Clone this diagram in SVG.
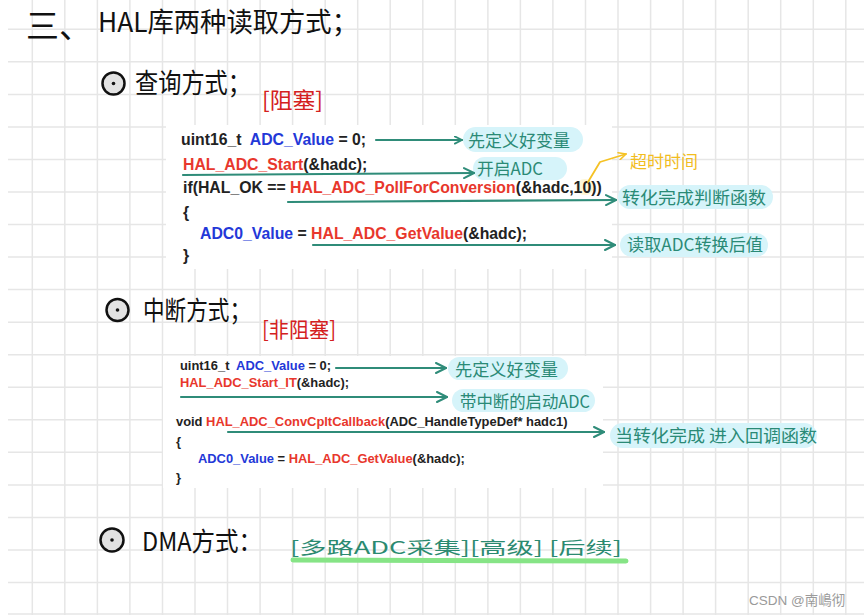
<svg xmlns="http://www.w3.org/2000/svg" width="864" height="615" viewBox="0 0 864 615">
<defs>
<style>
.grid{stroke:#e6e6e6;stroke-width:1.5;fill:none}
.hand{font-family:"Noto Sans CJK SC","Noto Sans",sans-serif;fill:#111}
.red{font-family:"Noto Sans CJK SC",sans-serif;fill:#d42020}
.code{font-family:"Liberation Sans",Arial,sans-serif;font-weight:bold;fill:#222}
.c1{font-size:15.8px}
.c2{font-size:12.9px}
.r{fill:#e8372c}
.b{fill:#2338d8}
.bub{fill:#d6f4fa}
.lbl{font-family:"Noto Sans CJK SC",sans-serif;fill:#2a8a76;font-size:17px}
.conn{stroke:#2f8c79;stroke-width:2.2;fill:none;stroke-linecap:round}
.yel{stroke:#f5c225;stroke-width:1.8;fill:none;stroke-linecap:round;stroke-linejoin:round}
.ico{fill:#e2e2e2;stroke:#111;stroke-width:2.5}
</style>
<marker id="ah" viewBox="0 0 12 12" refX="11" refY="6" markerWidth="12" markerHeight="12" markerUnits="userSpaceOnUse" orient="auto">
<path d="M1,1 L11,6 L1,11" fill="none" stroke="#2f8c79" stroke-width="2" stroke-linecap="round" stroke-linejoin="round"/>
</marker>
<marker id="ahs" viewBox="0 0 10 10" refX="9" refY="5" markerWidth="9" markerHeight="9" markerUnits="userSpaceOnUse" orient="auto">
<path d="M1,1 L9,5 L1,9" fill="none" stroke="#2f8c79" stroke-width="2" stroke-linecap="round" stroke-linejoin="round"/>
</marker>
<marker id="ahy" viewBox="0 0 10 10" refX="9" refY="5" markerWidth="9" markerHeight="9" markerUnits="userSpaceOnUse" orient="auto">
<path d="M1,1 L9,5 L1,9" fill="none" stroke="#f5c225" stroke-width="1.8" stroke-linecap="round" stroke-linejoin="round"/>
</marker>
</defs>
<rect x="0" y="0" width="864" height="615" fill="#ffffff"/>
<path class="grid" d="M32.3,0V615M64.8,0V615M97.4,0V615M129.9,0V615M162.5,0V615M195,0V615M227.5,0V615M260.1,0V615M292.6,0V615M325.2,0V615M357.7,0V615M390.2,0V615M422.8,0V615M455.3,0V615M487.9,0V615M520.4,0V615M552.9,0V615M585.5,0V615M618,0V615M650.6,0V615M683.1,0V615M715.6,0V615M748.2,0V615M780.7,0V615M813.3,0V615M845.8,0V615
M8,29.3H864M8,61.8H864M8,94.4H864M8,126.9H864M8,159.5H864M8,192H864M8,224.5H864M8,257.1H864M8,289.6H864M8,322.2H864M8,354.7H864M8,387.2H864M8,419.8H864M8,452.3H864M8,484.9H864M8,517.4H864M8,549.9H864M8,582.5H864M8,614H864"/>

<g id="title">
<text class="hand" x="26" y="38" font-size="33">三、</text>
<text class="hand" x="98" y="32" font-size="27" textLength="260" lengthAdjust="spacingAndGlyphs">HAL库两种读取方式；</text>
</g>

<g id="heading-poll">
<circle class="ico" cx="113.5" cy="83.5" r="11"/>
<circle cx="113.5" cy="83.5" r="1.8" fill="#111"/>
<text class="hand" x="135" y="93" font-size="27" textLength="116" lengthAdjust="spacingAndGlyphs">查询方式；</text>
<text class="red" x="262" y="108" font-size="22" textLength="61" lengthAdjust="spacingAndGlyphs">[阻塞]</text>
</g>

<g id="code-poll">
<rect x="166" y="125" width="446" height="144" fill="#ffffff"/>
<ellipse cx="585" cy="187" rx="9" ry="8" fill="#fff3c4" opacity="0.7"/>
<text class="code c1" x="181" y="145" xml:space="preserve">uint16_t  <tspan class="b">ADC_Value</tspan> = 0;</text>
<text class="code c1" x="183" y="170"><tspan class="r">HAL_ADC_Start</tspan>(&amp;hadc);</text>
<text class="code c1" x="183" y="193" xml:space="preserve">if(HAL_OK == <tspan class="r">HAL_ADC_PollForConversion</tspan>(&amp;hadc,10))</text>
<text class="code c1" x="183" y="218">{</text>
<text class="code c1" x="200" y="239" xml:space="preserve"><tspan class="b">ADC0_Value</tspan> = <tspan class="r">HAL_ADC_GetValue</tspan>(&amp;hadc);</text>
<text class="code c1" x="183" y="261">}</text>
</g>

<g id="label-define1">
<rect class="bub" x="463" y="127" width="120" height="25" rx="12.5"/>
<text class="lbl" x="468" y="147" textLength="102" lengthAdjust="spacingAndGlyphs">先定义好变量</text>
</g>
<g id="label-start">
<rect class="bub" x="473" y="157" width="94" height="23" rx="11.5"/>
<text class="lbl" x="477" y="175" textLength="66" lengthAdjust="spacingAndGlyphs">开启ADC</text>
</g>
<g id="label-timeout">
<text class="lbl" x="630" y="168" style="fill:#f2bd1f" textLength="68" lengthAdjust="spacingAndGlyphs">超时时间</text>
</g>
<g id="label-judge">
<rect class="bub" x="618" y="185" width="155" height="24" rx="12"/>
<text class="lbl" x="622" y="204" font-size="18" textLength="144" lengthAdjust="spacingAndGlyphs">转化完成判断函数</text>
</g>
<g id="label-read">
<rect class="bub" x="620" y="233" width="148" height="24" rx="12"/>
<text class="lbl" x="627" y="251" textLength="136" lengthAdjust="spacingAndGlyphs">读取ADC转换后值</text>
</g>

<g id="heading-it">
<circle class="ico" cx="117.5" cy="310" r="11"/>
<circle cx="117.5" cy="310" r="1.8" fill="#111"/>
<text class="hand" x="143" y="320" font-size="26" textLength="108" lengthAdjust="spacingAndGlyphs">中断方式；</text>
<text class="red" x="262" y="337" font-size="21" textLength="74" lengthAdjust="spacingAndGlyphs">[非阻塞]</text>
</g>

<g id="code-it">
<rect x="163" y="356" width="440" height="132" fill="#ffffff"/>
<text class="code c2" x="180" y="370" xml:space="preserve">uint16_t  <tspan class="b">ADC_Value</tspan> = 0;</text>
<text class="code c2" x="180" y="387"><tspan class="r">HAL_ADC_Start_IT</tspan>(&amp;hadc);</text>
<text class="code c2" x="176" y="426" xml:space="preserve">void <tspan class="r">HAL_ADC_ConvCpltCallback</tspan>(ADC_HandleTypeDef* hadc1)</text>
<text class="code c2" x="176" y="446">{</text>
<text class="code c2" x="198" y="463" xml:space="preserve"><tspan class="b">ADC0_Value</tspan> = <tspan class="r">HAL_ADC_GetValue</tspan>(&amp;hadc);</text>
<text class="code c2" x="176" y="482">}</text>
</g>

<g id="label-define2">
<rect class="bub" x="448" y="357" width="120" height="23" rx="11.5"/>
<text class="lbl" x="455" y="376" textLength="103" lengthAdjust="spacingAndGlyphs">先定义好变量</text>
</g>
<g id="label-startit">
<rect class="bub" x="452" y="389" width="143" height="23" rx="11.5"/>
<text class="lbl" x="460" y="408" textLength="130" lengthAdjust="spacingAndGlyphs">带中断的启动ADC</text>
</g>
<g id="label-callback">
<rect class="bub" x="610" y="423" width="207" height="25" rx="12.5"/>
<text class="lbl" x="615" y="442" font-size="18" textLength="202" lengthAdjust="spacingAndGlyphs">当转化完成 进入回调函数</text>
</g>

<g id="heading-dma">
<circle class="ico" cx="112" cy="540" r="11.5"/>
<circle cx="112" cy="540" r="1.8" fill="#111"/>
<text class="hand" x="142" y="551" font-size="26" textLength="120" lengthAdjust="spacingAndGlyphs">DMA方式：</text>
<line x1="293" y1="560" x2="626" y2="561" stroke="#86e486" stroke-width="5" stroke-linecap="round"/>
<text class="lbl" x="290" y="554" font-size="27" textLength="332" lengthAdjust="spacingAndGlyphs" style="fill:#2b8a70">[多路ADC采集][高级] [后续]</text>
</g>

<g id="connectors">
<path class="conn" d="M376,140 L462,140" marker-end="url(#ahs)"/>
<path class="conn" d="M183,175 L474,173" marker-end="url(#ah)"/>
<path class="yel" d="M588,182 L600,162 L626,154" marker-end="url(#ahy)"/>
<path class="conn" d="M288,202 L616,200" marker-end="url(#ah)"/>
<path class="conn" d="M313,245 L615,245" marker-end="url(#ah)"/>
<path class="conn" d="M336,368 L446,368" marker-end="url(#ah)"/>
<path class="conn" d="M181,397 L447,397" marker-end="url(#ah)"/>
<path class="conn" d="M228,432 L604,432" marker-end="url(#ah)"/>
</g>

<g id="watermark">
<text x="749" y="605" font-family="'Liberation Sans','Noto Sans CJK SC',sans-serif" font-size="13.5" fill="#9a9a9a">CSDN @南嶋彻</text>
</g>
</svg>
